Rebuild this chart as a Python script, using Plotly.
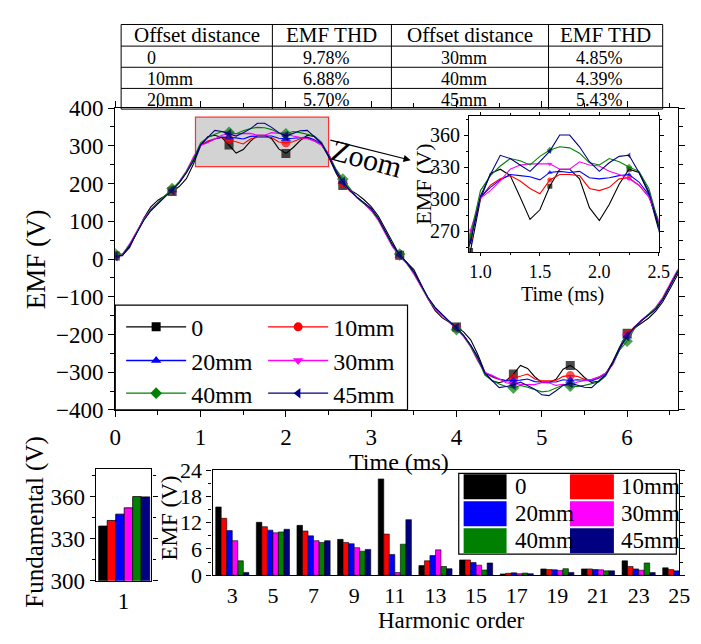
import plotly.graph_objects as go

W, H = 701, 644
SERIF = "Liberation Serif, Times New Roman, DejaVu Serif, serif"

def px(x):
    return x / W

def py(y):
    return 1 - y / H

# ---------------- data ----------------
series_names = ["0", "10mm", "20mm", "30mm", "40mm", "45mm"]
series_colors = ["#000000", "#ff0000", "#0000ff", "#ff00ff", "#008000", "#000080"]
series_symbols = ["square", "circle", "triangle-up", "triangle-down", "diamond", "triangle-left"]

# sampling grid of the EMF waveforms (step 1/12 ms)
time_ms = [k / 12 for k in range(81)]

emf_0 = [8, 10, 30, 68, 108, 138, 156, 168, 179, 192, 213,
         252, 300, 324, 328, 322, 302, 281, 290, 312, 328,
         328, 319, 292, 280, 295, 314, 328, 325, 305, 271,
         230, 195, 184, 172, 157, 139, 114, 80, 44, 10,
         -9, -28, -66, -106, -137, -156, -168, -180, -193, -214,
         -253, -300, -323, -328, -322, -305, -282, -290, -312, -327,
         -328, -319, -292, -282, -295, -314, -327, -324, -305, -271,
         -231, -197, -184, -172, -157, -139, -114, -80, -44, -10]
emf_10 = [10, 11, 36, 70, 104, 130, 148, 165, 183, 203, 230,
          264, 301, 313, 319, 322, 317, 310, 305, 318, 323,
          323, 322, 310, 308, 311, 319, 320, 313, 302, 278,
          236, 200, 180, 163, 148, 132, 106, 70, 36, 9,
          -11, -36, -70, -104, -130, -148, -165, -183, -203, -230,
          -264, -301, -313, -319, -322, -316, -309, -305, -318, -323,
          -323, -322, -311, -309, -311, -319, -320, -313, -302, -278,
          -236, -200, -180, -163, -148, -132, -106, -70, -36, -9]
emf_20 = [9, 10, 36, 70, 104, 130, 148, 165, 183, 203, 230,
          262, 302, 311, 318, 323, 322, 321, 318, 325, 326,
          325, 326, 320, 319, 320, 322, 323, 316, 304, 275,
          234, 205, 182, 163, 148, 132, 106, 70, 36, 10,
          -10, -36, -70, -104, -130, -148, -165, -183, -203, -230,
          -262, -302, -311, -318, -323, -323, -321, -318, -325, -326,
          -325, -326, -320, -322, -320, -322, -323, -316, -304, -275,
          -234, -205, -182, -163, -148, -132, -106, -70, -36, -10]
emf_30 = [11, 12, 40, 74, 106, 132, 150, 167, 185, 206, 233,
          271, 301, 308, 317, 328, 332, 333, 333, 333, 328,
          328, 335, 332, 331, 326, 323, 319, 313, 302, 280,
          238, 205, 182, 162, 146, 128, 102, 66, 32, 7,
          -12, -40, -74, -106, -132, -150, -167, -185, -206, -233,
          -271, -301, -308, -317, -328, -331, -333, -333, -333, -328,
          -328, -335, -332, -335, -326, -323, -319, -313, -302, -280,
          -238, -205, -182, -162, -146, -128, -102, -66, -32, -7]
emf_40 = [14, 13, 36, 70, 104, 130, 149, 166, 187, 204, 232,
          266, 308, 322, 331, 338, 336, 332, 340, 346, 349,
          348, 343, 334, 332, 338, 335, 330, 326, 310, 277,
          240, 212, 186, 163, 147, 131, 106, 70, 36, 13,
          -13, -36, -70, -104, -130, -149, -166, -187, -204, -232,
          -266, -308, -322, -331, -338, -342, -335, -340, -346, -352,
          -350, -343, -334, -337, -338, -335, -330, -326, -310, -277,
          -240, -218, -186, -163, -147, -131, -106, -70, -36, -13]
emf_45 = [7, 9, 34, 68, 102, 128, 147, 165, 182, 202, 228,
          260, 303, 323, 341, 338, 332, 326, 335, 345, 360,
          360, 349, 335, 326, 334, 340, 341, 325, 307, 274,
          235, 205, 182, 164, 149, 134, 108, 72, 38, 11,
          -9, -34, -68, -102, -128, -147, -165, -182, -202, -228,
          -260, -303, -323, -341, -338, -334, -326, -335, -345, -360,
          -362, -349, -335, -329, -334, -340, -341, -325, -307, -274,
          -235, -205, -182, -164, -149, -134, -108, -72, -38, -11]
emf_series = [emf_0, emf_10, emf_20, emf_30, emf_40, emf_45]

# THD table
table_header = ["Offset distance", "EMF THD", "Offset distance", "EMF THD"]
table_offset_left = ["0", "10mm", "20mm"]
table_thd_left = ["9.78%", "6.88%", "5.70%"]
table_offset_right = ["30mm", "40mm", "45mm"]
table_thd_right = ["4.85%", "4.39%", "5.43%"]

# fundamental amplitude (V)
fundamental_order = [1]
fundamental_values = [339, 343, 347.5, 352, 360, 359.8]

# harmonics
harmonic_orders = [3, 5, 7, 9, 11, 13, 15, 17, 19, 21, 23, 25]
harm_0 = [15.6, 12.1, 11.4, 8.2, 22.0, 2.2, 3.5, 0.3, 1.45, 1.45, 3.3, 1.7]
harm_10 = [13.0, 11.1, 10.1, 7.5, 9.4, 3.3, 3.5, 0.45, 1.3, 1.45, 2.0, 1.3]
harm_20 = [10.2, 10.3, 9.0, 7.2, 4.75, 4.5, 2.9, 0.55, 1.25, 1.3, 1.45, 1.0]
harm_30 = [7.9, 9.7, 7.9, 6.3, 0.6, 5.8, 2.3, 0.35, 1.1, 1.25, 1.15, 0.9]
harm_40 = [3.3, 9.9, 7.5, 5.5, 7.1, 2.0, 1.2, 0.5, 1.5, 1.0, 2.8, 0.7]
harm_45 = [0.65, 10.5, 7.9, 5.9, 12.7, 1.5, 2.8, 0.35, 0.65, 1.0, 0.6, 0.5]
harm_series = [harm_0, harm_10, harm_20, harm_30, harm_40, harm_45]

# ---------------- figure ----------------
fig = go.Figure()

main_marker_sizes = [9 if k % 8 == 0 else 0 for k in range(len(time_ms))]
inset_marker_sizes = [5 if k % 8 == 3 else 0 for k in range(len(time_ms))]
legends = ["legend", "legend", "legend2", "legend2", "legend3", "legend3"]

for i in range(6):
    fig.add_trace(go.Scatter(
        x=time_ms, y=emf_series[i], name=series_names[i], mode="lines+markers",
        line=dict(color=series_colors[i], width=1.1),
        marker=dict(symbol=series_symbols[i], color=series_colors[i],
                    size=main_marker_sizes, line=dict(width=0)),
        showlegend=False, xaxis="x", yaxis="y"))

# legend entries (line + marker sample)
for i in range(6):
    fig.add_trace(go.Scatter(
        x=[None], y=[None], name=series_names[i], mode="lines+markers",
        line=dict(color=series_colors[i], width=1.3),
        marker=dict(symbol=series_symbols[i], color=series_colors[i], size=9,
                    line=dict(width=0)),
        legend=legends[i], xaxis="x", yaxis="y"))

for i in range(6):
    fig.add_trace(go.Scatter(
        x=time_ms, y=emf_series[i], name=series_names[i], mode="lines+markers",
        line=dict(color=series_colors[i], width=1.1),
        marker=dict(symbol=series_symbols[i], color=series_colors[i],
                    size=inset_marker_sizes, line=dict(width=0)),
        showlegend=False, xaxis="x2", yaxis="y2"))

# fundamental bars
fund_w = 0.168
for i in range(6):
    fig.add_trace(go.Bar(
        x=fundamental_order, y=[fundamental_values[i]],
        width=fund_w, offset=-0.492 + i * fund_w,
        marker=dict(color=series_colors[i], line=dict(color="black", width=0.8)),
        showlegend=False, xaxis="x3", yaxis="y3"))

# harmonic bars
harm_w = 0.272
for i in range(6):
    fig.add_trace(go.Bar(
        x=harmonic_orders, y=harm_series[i],
        width=harm_w, offset=-0.816 + i * harm_w,
        marker=dict(color=series_colors[i], line=dict(color="black", width=0.6)),
        showlegend=False, xaxis="x4", yaxis="y4"))

axis_common = dict(showline=True, linecolor="black", linewidth=1.3, mirror="ticks",
                   tickcolor="black", tickwidth=1.1, showgrid=False, zeroline=False)

def tf(size):
    return dict(family=SERIF, size=size, color="black")

layout_axes = dict(
    xaxis=dict(domain=[px(112), px(689)], range=[0, 6.6], dtick=1, ticks="outside",
               ticklen=6, tickfont=tf(23),
               minor=dict(dtick=0.5, ticks="outside", ticklen=4, tickcolor="black"),
               anchor="y", **axis_common),
    yaxis=dict(domain=[py(414), py(100)], range=[-400, 400], dtick=100, ticks="outside",
               ticklen=6, tickfont=tf(23),
               minor=dict(dtick=50, ticks="outside", ticklen=4, tickcolor="black"),
               anchor="x", **axis_common),
    xaxis2=dict(domain=[px(474.7), px(669)], range=[0.905, 2.5], dtick=0.5,
                tickformat=".1f", ticks="outside", ticklen=3, tickfont=tf(18),
                minor=dict(dtick=0.25, ticks="outside", ticklen=2, tickcolor="black"),
                anchor="y2", **axis_common),
    yaxis2=dict(domain=[py(249.7), py(108)], range=[250.5, 378], dtick=30,
                ticks="outside", ticklen=4, tickfont=tf(20),
                minor=dict(dtick=15, ticks="outside", ticklen=2, tickcolor="black"),
                anchor="x2", **axis_common),
    xaxis3=dict(domain=[px(92), px(149)], range=[0.45, 1.55], tickvals=[1],
                ticks="", tickfont=tf(23), anchor="y3", **axis_common),
    yaxis3=dict(domain=[py(591.7), py(475)], range=[300, 380], dtick=30,
                ticks="outside", ticklen=5, tickfont=tf(23),
                minor=dict(dtick=15, ticks="outside", ticklen=3, tickcolor="black"),
                anchor="x3", **axis_common),
    xaxis4=dict(domain=[px(211.7), px(690)], range=[2.03, 25.0], tickvals=harmonic_orders,
                ticks="", tickfont=tf(22), anchor="y4", **axis_common),
    yaxis4=dict(domain=[py(586), py(476.7)], range=[0, 24], dtick=6, ticks="outside",
                ticklen=5, tickfont=tf(22),
                minor=dict(dtick=3, ticks="outside", ticklen=3, tickcolor="black"),
                anchor="x4", **axis_common),
)

legend_common = dict(orientation="h", xanchor="left", yanchor="middle",
                     entrywidth=67, entrywidthmode="pixels", itemwidth=60,
                     bgcolor="rgba(0,0,0,0)", itemsizing="trace",
                     font=tf(24))

shapes = [
    # zoom region
    dict(type="rect", xref="x", yref="y", x0=0.94, x1=2.5, y0=245, y1=376,
         fillcolor="#d3d3d3", line=dict(color="#ff3030", width=1.2), layer="below"),
    # line-legend frame
    dict(type="rect", xref="paper", yref="paper", x0=px(112), x1=px(411.5),
         y0=py(414), y1=py(305), line=dict(color="black", width=1.2),
         fillcolor="rgba(0,0,0,0)", layer="above"),
    # bar-legend frame
    dict(type="rect", xref="paper", yref="paper", x0=px(464), x1=px(687),
         y0=py(564), y1=py(480), line=dict(color="black", width=1.2),
         fillcolor="white", layer="above"),
]

def label(text, x, y, size, angle=0, xanchor="center"):
    return dict(text=text, x=px(x), y=py(y), xref="paper", yref="paper",
                xanchor=xanchor, yanchor="middle", textangle=angle,
                showarrow=False, font=tf(size))

annotations = [
    label("EMF (V)", 31, 257, 27, -90),
    label("Time (ms)", 403, 468, 24),
    label("EMF (V)", 427, 179, 22, -90),
    label("Time (ms)", 570, 294, 20),
    label("Fundamental (V)", 30, 531, 25, -90),
    label("EMF (V)", 168, 526, 23, -90),
    label("Harmonic order", 457, 633, 23),
    label("Zoom", 370, 152, 30, 15),
    dict(text="", x=3.463, y=262, ax=2.503, ay=316, xref="x", yref="y",
         axref="x", ayref="y", showarrow=True, arrowhead=2, arrowsize=1.2,
         arrowwidth=1.2, arrowcolor="black"),
]

# bar legend swatches + labels
sw_cols = [(469, 513, 520), (578, 623, 628)]
sw_rows = [(481, 507), (509, 535), (537, 563)]
for i in range(6):
    c = sw_cols[i % 2]
    r = sw_rows[i // 2]
    shapes.append(dict(type="rect", xref="paper", yref="paper", x0=px(c[0]), x1=px(c[1]),
                       y0=py(r[1]), y1=py(r[0]), fillcolor=series_colors[i],
                       line=dict(width=0), layer="above"))
    annotations.append(label(series_names[i], c[2], (r[0] + r[1]) / 2, 23, xanchor="left"))

# THD table drawn as a grid of lines with text cells
col_edges = [118, 273, 395, 556, 673]
row_edges = [13, 35.5, 57.5, 79.5, 101]
for xe in col_edges:
    shapes.append(dict(type="line", xref="paper", yref="paper", x0=px(xe), x1=px(xe),
                       y0=py(row_edges[-1]), y1=py(row_edges[0]),
                       line=dict(color="black", width=1)))
for ye in row_edges:
    shapes.append(dict(type="line", xref="paper", yref="paper", x0=px(col_edges[0]),
                       x1=px(col_edges[-1]), y0=py(ye), y1=py(ye),
                       line=dict(color="black", width=1)))
for j, head in enumerate(table_header):
    annotations.append(label(head, (col_edges[j] + col_edges[j + 1]) / 2,
                             (row_edges[0] + row_edges[1]) / 2, 21))
table_columns = [table_offset_left, table_thd_left, table_offset_right, table_thd_right]
for j, col in enumerate(table_columns):
    for r, val in enumerate(col):
        yc = (row_edges[r + 1] + row_edges[r + 2]) / 2 + 1
        if j == 0:
            annotations.append(label(val, col_edges[0] + 24, yc, 18, xanchor="left"))
        else:
            annotations.append(label(val, (col_edges[j] + col_edges[j + 1]) / 2 - 6, yc, 18))

fig.update_layout(
    width=W, height=H, margin=dict(l=0, r=0, t=0, b=0),
    paper_bgcolor="white", plot_bgcolor="white",
    font=dict(family=SERIF, color="black"),
    barmode="overlay", showlegend=True,
    legend=dict(x=px(118), y=py(328), **legend_common),
    legend2=dict(x=px(118), y=py(363), **legend_common),
    legend3=dict(x=px(118), y=py(397), **legend_common),
    shapes=shapes, annotations=annotations,
    **layout_axes,
)

fig.write_html("out.html")
